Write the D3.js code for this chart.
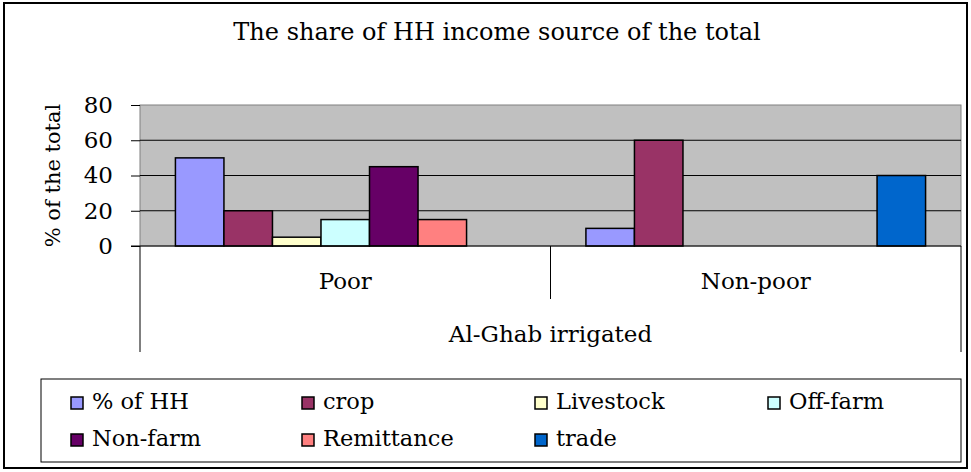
<!DOCTYPE html>
<html>
<head>
<meta charset="utf-8">
<script src="https://cdn.jsdelivr.net/npm/d3@7"></script>
<style>
  body { margin: 0; background: #fff; }
  text { font-family: "DejaVu Serif", serif; fill: #000; }
</style>
</head>
<body>
<svg id="chart" width="971" height="472"></svg>
<script>
var categories = ["Poor", "Non-poor"];
var groupLabel = "Al-Ghab irrigated";
var seriesNames = ["% of HH", "crop", "Livestock", "Off-farm", "Non-farm", "Remittance", "trade"];
var seriesColors = ["#9999FF", "#993366", "#FFFFCC", "#CCFFFF", "#660066", "#FF8080", "#0066CC"];
var poorValues = [50, 20, 5, 15, 45, 15, 0];
var nonPoorValues = [10, 60, 0, 0, 0, 0, 40];
var yTicks = [0, 20, 40, 60, 80];

var svg = d3.select("#chart");

// outer chart border
svg.append("rect")
    .attr("x", 4).attr("y", 3)
    .attr("width", 963).attr("height", 465)
    .attr("fill", "#fff").attr("stroke", "#000").attr("stroke-width", 2);

svg.append("text")
    .attr("x", 497).attr("y", 40)
    .attr("text-anchor", "middle")
    .style("font-size", "24px")
    .text("The share of HH income source of the total");

var plotLeft = 140, plotRight = 961, plotTop = 105, plotBottom = 246;

var x0 = d3.scaleBand().domain(categories).range([plotLeft, plotRight]);
var x1 = d3.scaleBand().domain(seriesNames).range([0, x0.bandwidth()]).paddingOuter(0.73);
var y = d3.scaleLinear().domain([0, 80]).range([plotBottom, plotTop]);

svg.append("rect")
    .attr("x", plotLeft).attr("y", plotTop)
    .attr("width", plotRight - plotLeft).attr("height", plotBottom - plotTop)
    .attr("fill", "#C0C0C0").attr("stroke", "#808080").attr("stroke-width", 1);

// gridlines
svg.append("g")
    .selectAll("line")
    .data(yTicks.slice(1, -1))
    .enter().append("line")
    .attr("x1", plotLeft).attr("x2", plotRight)
    .attr("y1", function (d) { return y(d); })
    .attr("y2", function (d) { return y(d); })
    .attr("stroke", "#000").attr("stroke-width", 1);

// y axis
var yAxis = svg.append("g")
    .attr("transform", "translate(" + plotLeft + ",0)")
    .call(d3.axisLeft(y).tickValues(yTicks).tickSize(9).tickPadding(18));
yAxis.select(".domain").remove();
yAxis.selectAll("line").attr("stroke", "#000");
yAxis.selectAll("text")
    .style("font-size", "23px")
    .style("font-family", "DejaVu Serif, serif")
    .attr("fill", "#000");

svg.append("text")
    .attr("transform", "translate(60," + ((plotTop + plotBottom) / 2) + ") rotate(-90)")
    .attr("text-anchor", "middle")
    .style("font-size", "21px")
    .text("% of the total");

// bars
var data = [
    { cat: "Poor", values: poorValues },
    { cat: "Non-poor", values: nonPoorValues }
];

var groups = svg.append("g")
    .selectAll("g")
    .data(data)
    .enter().append("g")
    .attr("transform", function (d) { return "translate(" + x0(d.cat) + ",0)"; });

groups.selectAll("rect")
    .data(function (d) {
        return d.values.map(function (v, i) { return { name: seriesNames[i], value: v, color: seriesColors[i] }; })
            .filter(function (b) { return b.value > 0; });
    })
    .enter().append("rect")
    .attr("x", function (d) { return x1(d.name); })
    .attr("width", x1.bandwidth())
    .attr("y", function (d) { return y(d.value); })
    .attr("height", function (d) { return y(0) - y(d.value); })
    .attr("fill", function (d) { return d.color; })
    .attr("stroke", "#000").attr("stroke-width", 1.5);

// category axis
var axisG = svg.append("g").attr("stroke", "#000").attr("stroke-width", 1);
axisG.append("line")
    .attr("x1", plotLeft - 9).attr("x2", plotRight)
    .attr("y1", plotBottom).attr("y2", plotBottom);
axisG.append("line")
    .attr("x1", plotLeft).attr("x2", plotLeft)
    .attr("y1", plotBottom).attr("y2", 352);
axisG.append("line")
    .attr("x1", plotRight).attr("x2", plotRight)
    .attr("y1", plotBottom).attr("y2", 352);
axisG.append("line")
    .attr("x1", x0("Non-poor")).attr("x2", x0("Non-poor"))
    .attr("y1", plotBottom).attr("y2", 299);

svg.append("g")
    .selectAll("text")
    .data(categories)
    .enter().append("text")
    .attr("x", function (d) { return x0(d) + x0.bandwidth() / 2; })
    .attr("y", 289)
    .attr("text-anchor", "middle")
    .style("font-size", "23px")
    .text(function (d) { return d; });

svg.append("text")
    .attr("x", (plotLeft + plotRight) / 2)
    .attr("y", 342)
    .attr("text-anchor", "middle")
    .style("font-size", "23px")
    .text(groupLabel);

// legend
svg.append("rect")
    .attr("x", 41).attr("y", 379)
    .attr("width", 920).attr("height", 83)
    .attr("fill", "#fff").attr("stroke", "#000").attr("stroke-width", 1);

var legendCols = [71, 302, 535, 768];
var legend = svg.append("g")
    .selectAll("g")
    .data(seriesNames)
    .enter().append("g")
    .attr("transform", function (d, i) {
        return "translate(" + legendCols[i % 4] + "," + (409 + Math.floor(i / 4) * 37) + ")";
    });

legend.append("rect")
    .attr("x", 0).attr("y", -12)
    .attr("width", 12).attr("height", 12)
    .attr("fill", function (d, i) { return seriesColors[i]; })
    .attr("stroke", "#000").attr("stroke-width", 1.5);

legend.append("text")
    .attr("x", 21).attr("y", 0)
    .style("font-size", "22.5px")
    .text(function (d) { return d; });
</script>
</body>
</html>
